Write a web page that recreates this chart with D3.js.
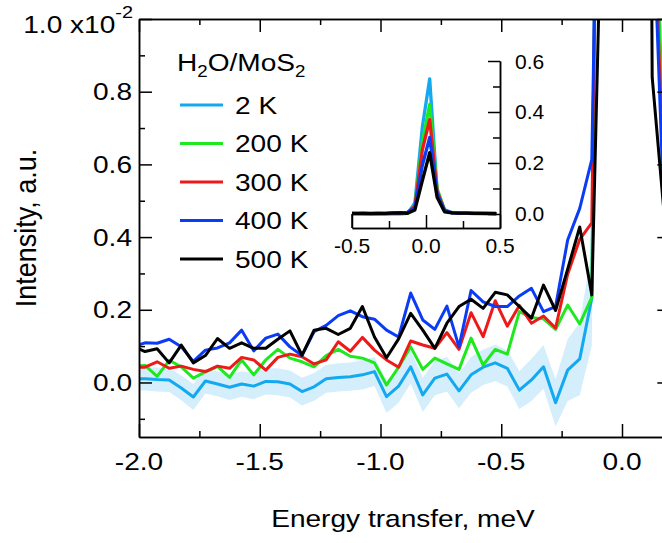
<!DOCTYPE html>
<html><head><meta charset="utf-8">
<script src="https://cdn.jsdelivr.net/npm/d3@7"></script>
<style>
html,body{margin:0;padding:0;background:#fff;}
svg{display:block;}
text{font-family:"Liberation Sans",Arial,Helvetica,sans-serif;fill:#000;}
</style></head><body>
<svg id="chart" width="662" height="543"></svg>
<script>
// ---------------- DATA (intensity in units of 1e-2) ----------------
const energy = [-2.025,-1.975,-1.925,-1.875,-1.825,-1.775,-1.725,-1.675,-1.625,-1.575,-1.525,-1.475,-1.425,-1.375,-1.325,-1.275,-1.225,-1.175,-1.125,-1.075,-1.025,-0.975,-0.925,-0.875,-0.825,-0.775,-0.725,-0.675,-0.625,-0.575,-0.525,-0.475,-0.425,-0.375,-0.325,-0.275,-0.225,-0.175,-0.125,-0.075,-0.025,0.025,0.075,0.125,0.175,0.225,0.275,0.325,0.375,0.425,0.475];
const seriesNames = ["2 K","200 K","300 K","400 K","500 K"];
const seriesColors = ["#14a8f0","#1ee81e","#ee1a1a","#0a3cf5","#000000"];
const int2K = [0.011,0.010,0.008,0.007,-0.015,-0.040,0.004,-0.004,-0.013,-0.004,-0.010,0.003,0.002,-0.004,-0.025,-0.012,0.010,0.014,0.016,0.021,0.030,-0.039,-0.010,0.043,-0.034,0.012,0.023,-0.023,0.021,0.042,0.054,0.039,-0.021,0.007,0.043,-0.056,0.034,0.065,0.232,4.3,34,53,9,1.6,0.5,0.3,0.2,0.15,0.1,0.1,0.05];
const int200K = [0.045,0.047,0.017,0.061,0.043,0.012,0.029,0.044,0.014,0.062,0.021,0.062,0.091,0.067,0.057,0.043,0.074,0.091,0.072,0.067,0.054,-0.007,0.042,0.098,0.036,0.067,0.051,0.036,0.122,0.048,0.091,0.078,0.195,0.179,0.175,0.146,0.213,0.161,0.234,3.5,28,43,10,1.6,0.6,0.3,0.25,0.2,0.15,0.1,0.1];
const int300K = [0.042,0.042,0.057,0.039,0.045,0.036,0.030,0.045,0.039,0.069,0.062,0.034,0.069,0.078,0.071,0.051,0.062,0.112,0.086,0.124,0.089,0.062,0.042,0.114,0.103,0.094,0.137,0.091,0.192,0.126,0.225,0.155,0.212,0.163,0.183,0.150,0.298,0.394,0.439,3.0,25,37,9,1.45,0.5,0.3,0.25,0.2,0.2,0.15,0.1];
const int400K = [0.098,0.109,0.108,0.119,0.098,0.058,0.089,0.095,0.109,0.144,0.087,0.122,0.133,0.098,0.074,0.140,0.157,0.184,0.197,0.181,0.174,0.144,0.125,0.246,0.172,0.146,0.210,0.098,0.253,0.222,0.209,0.209,0.238,0.259,0.195,0.209,0.392,0.479,0.614,2.5,19,30,8,1.35,0.45,0.3,0.3,0.25,0.2,0.2,0.15];
const int500K = [0.100,0.085,0.093,0.054,0.103,0.054,0.074,0.121,0.094,0.109,0.094,0.094,0.119,0.142,0.075,0.144,0.149,0.132,0.149,0.209,0.125,0.068,0.120,0.190,0.144,0.094,0.163,0.209,0.229,0.204,0.248,0.241,0.209,0.177,0.268,0.198,0.312,0.428,0.241,1.6,13,24,6.6,0.84,0.46,0.35,0.3,0.25,0.25,0.2,0.2];
const err2K = [0.032,0.032,0.033,0.033,0.034,0.036,0.034,0.034,0.035,0.035,0.036,0.036,0.037,0.037,0.038,0.038,0.038,0.039,0.039,0.040,0.040,0.045,0.046,0.046,0.047,0.047,0.048,0.048,0.049,0.049,0.050,0.050,0.052,0.058,0.060,0.065,0.085,0.100,0.130,0.8,3,4,1.5,0.3,0.2,0.1,0.1,0.1,0.1,0.1,0.1];
const allSeries = [int2K,int200K,int300K,int400K,int500K];

const xMajorTicks = [-2.0,-1.5,-1.0,-0.5,0.0];
const xTickLabels = ["-2.0","-1.5","-1.0","-0.5","0.0"];
const xMinorTicks = [-1.75,-1.25,-0.75,-0.25];
const yMajorTicks = [0.0,0.2,0.4,0.6,0.8,1.0];
const yTickLabels = ["0.0","0.2","0.4","0.6","0.8","1.0 x10"];
const yMinorTicks = [-0.1,0.1,0.3,0.5,0.7,0.9];
const insetXTicks = [-0.5,0.0,0.5];
const insetXLabels = ["-0.5","0.0","0.5"];
const insetXMinor = [-0.25,0.25];
const insetYTicks = [0.0,0.2,0.4,0.6];
const insetYLabels = ["0.0","0.2","0.4","0.6"];
const insetYMinor = [0.1,0.3,0.5];

// ---------------- LAYOUT ----------------
const SX = 1.17; // horizontal stretch of the main text
const svg = d3.select("#chart");
const x = d3.scaleLinear().domain([-2.0,0.2]).range([139,670.3]);
const y = d3.scaleLinear().domain([-0.15,1.0]).range([437,19]);

svg.append("defs").append("clipPath").attr("id","clipMain")
  .append("rect").attr("x",139).attr("y",19).attr("width",531).attr("height",418);

function stext(parent,px,py,str,size,anchor){
  return parent.append("text")
    .attr("transform",`translate(${px},${py}) scale(${SX},1)`)
    .attr("font-size",size).attr("text-anchor",anchor).text(str);
}

// band
const plot = svg.append("g").attr("clip-path","url(#clipMain)");
const pts = energy.map((e,i)=>({e,v:int2K[i],err:err2K[i]}));
plot.append("path").datum(pts)
  .attr("fill","#d4eefc").attr("stroke","none")
  .attr("d",d3.area().x(d=>x(d.e)).y0(d=>y(d.v-d.err)).y1(d=>y(d.v+d.err)));

const line = d3.line().x(d=>x(d[0])).y(d=>y(d[1]));
allSeries.forEach((s,i)=>{
  plot.append("path").datum(energy.map((e,j)=>[e,s[j]]))
    .attr("fill","none").attr("stroke",seriesColors[i]).attr("stroke-width",3)
    .attr("stroke-linejoin","round").attr("d",line);
});

// axes (ticks inward)
const axG = svg.append("g").attr("stroke-width",1.5);
function addAxis(axisFn, scale, vals, size, tx, ty){
  const a = axisFn(scale).tickValues(vals).tickSize(size).tickSizeOuter(0).tickFormat("");
  const g = axG.append("g").attr("transform",`translate(${tx},${ty})`).call(a);
  g.selectAll("line").attr("stroke","#000").attr("stroke-width",1.5);
  g.select(".domain").attr("stroke","#000").attr("stroke-width",1.5);
  return g;
}
addAxis(d3.axisBottom,x,xMajorTicks,-13,0,437);
addAxis(d3.axisBottom,x,xMinorTicks,-6,0,437);
addAxis(d3.axisTop,x,xMajorTicks,-13,0,19);
addAxis(d3.axisTop,x,xMinorTicks,-6,0,19);
addAxis(d3.axisLeft,y,yMajorTicks,-13,139,0);
addAxis(d3.axisLeft,y,yMinorTicks,-6,139,0);
addAxis(d3.axisRight,y,yMajorTicks,-13,670.3,0);
addAxis(d3.axisRight,y,yMinorTicks,-6,670.3,0);

// tick labels
xMajorTicks.forEach((v,i)=>stext(svg,x(v),470,xTickLabels[i],24,"middle"));
yMajorTicks.forEach((v,i)=>{
  if(i===yMajorTicks.length-1){
    const t = stext(svg,133,33,"",24,"end");
    t.append("tspan").text(yTickLabels[i]);
    t.append("tspan").attr("font-size",17).attr("dy",-15).text("-2");
  } else {
    stext(svg,132,y(v)+8.5,yTickLabels[i],24,"end");
  }
});

// axis titles
stext(svg,403,527,"Energy transfer, meV",24,"middle");
svg.append("text").attr("transform",`translate(36,228) rotate(-90) scale(1,1.12)`)
  .attr("font-size",27).attr("text-anchor","middle").text("Intensity, a.u.");

// legend
const lg = svg.append("g");
const lt = stext(lg,177,71,"",24,"start");
lt.append("tspan").text("H");
lt.append("tspan").attr("font-size",16).attr("dy",6).text("2");
lt.append("tspan").attr("dy",-6).text("O/MoS");
lt.append("tspan").attr("font-size",16).attr("dy",6).text("2");
seriesNames.forEach((n,i)=>{
  const ly = 105 + i*38.5;
  lg.append("line").attr("x1",180).attr("x2",223).attr("y1",ly).attr("y2",ly)
    .attr("stroke",seriesColors[i]).attr("stroke-width",3);
  stext(lg,235,ly+8.5,n,24,"start");
});

// ---------------- INSET ----------------
const ix = d3.scaleLinear().domain([-0.5,0.5]).range([352,500]);
const iy = d3.scaleLinear().domain([-0.055,0.6]).range([228,61]);
const inset = svg.append("g");
svg.select("defs").append("clipPath").attr("id","clipInset")
  .append("rect").attr("x",352).attr("y",40).attr("width",148).attr("height",188);
const ip = inset.append("g").attr("clip-path","url(#clipInset)");
const iline = d3.line().x(d=>ix(d[0])).y(d=>iy(d[1]/100));
allSeries.forEach((s,i)=>{
  ip.append("path").datum(energy.map((e,j)=>[e,s[j]]))
    .attr("fill","none").attr("stroke",seriesColors[i]).attr("stroke-width",3.3)
    .attr("stroke-linejoin","round").attr("d",iline);
});
function insetAxis(axisFn, scale, vals, size, tx, ty){
  const a = axisFn(scale).tickValues(vals).tickSize(size).tickSizeOuter(0).tickFormat("");
  const g = inset.append("g").attr("transform",`translate(${tx},${ty})`).call(a);
  g.selectAll("line").attr("stroke","#000").attr("stroke-width",1.5);
  g.select(".domain").attr("stroke","#000").attr("stroke-width",1.5);
}
insetAxis(d3.axisBottom,ix,insetXTicks,-13,0,228);
insetAxis(d3.axisBottom,ix,insetXMinor,-7,0,228);
insetAxis(d3.axisRight,iy,insetYTicks,-12,500,0);
insetAxis(d3.axisRight,iy,insetYMinor,-7,500,0);
inset.append("line").attr("x1",352).attr("x2",352).attr("y1",iy(0)).attr("y2",228)
  .attr("stroke","#000").attr("stroke-width",1.5);
insetXTicks.forEach((v,i)=>inset.append("text").attr("x",ix(v)).attr("y",253)
  .attr("font-size",21).attr("text-anchor","middle").text(insetXLabels[i]));
insetYTicks.forEach((v,i)=>inset.append("text").attr("x",515).attr("y",iy(v)+7.5)
  .attr("font-size",21).attr("text-anchor","start").text(insetYLabels[i]));
</script>
</body></html>
